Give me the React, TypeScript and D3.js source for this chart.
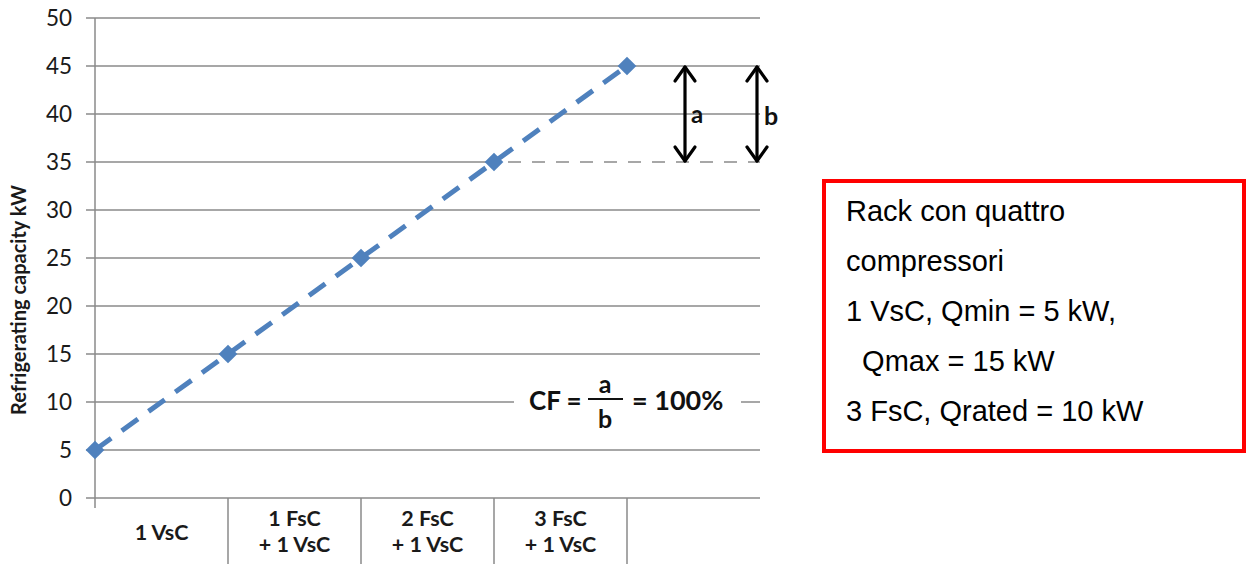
import React from "react";
import * as d3 from "d3";

// chart data
const categories = ["1 VsC", "1 FsC|+ 1 VsC", "2 FsC|+ 1 VsC", "3 FsC|+ 1 VsC", ""];
const capacity = [5, 15, 25, 35, 45];
const yTickValues = [0, 5, 10, 15, 20, 25, 30, 35, 40, 45, 50];
const boxLines = [
  "Rack con quattro",
  "compressori",
  "1 VsC, Qmin = 5 kW,",
  "  Qmax = 15 kW",
  "3 FsC, Qrated = 10 kW",
];
const aLow = 35;
const aHigh = 45;
const cfText = "= 100%";

const W = 1247;
const H = 564;
const left = 95;
const right = 760;
const top = 18;
const bottom = 498;

const chartFont = "Lato, 'Open Sans', sans-serif";
const boxFont = "'Liberation Sans', Arial, sans-serif";
const blue = "#4F81BD";
const grid = "#8a8a8a";
const ink = "#1a1a1a";

export default function App() {
  const x = d3.scaleLinear().domain([0, categories.length]).range([left, right]);
  const y = d3.scaleLinear().domain([0, 50]).range([bottom, top]);

  const line = d3
    .line<number>()
    .x((_, i) => x(i))
    .y((d) => y(d));

  const diamond = d3.symbol().type(d3.symbolSquare).size(175)();

  const arrowA = 685;
  const arrowB = 757;

  const arrow = (ax: number) => {
    const y1 = y(aHigh) + 1;
    const y2 = y(aLow) - 1;
    return (
      <g stroke="#000" strokeWidth={3.2} fill="none" strokeLinecap="round" strokeLinejoin="round">
        <line x1={ax} x2={ax} y1={y1} y2={y2} />
        <path d={`M${ax - 10},${y1 + 14}L${ax},${y1}L${ax + 10},${y1 + 14}`} />
        <path d={`M${ax - 10},${y2 - 14}L${ax},${y2}L${ax + 10},${y2 - 14}`} />
      </g>
    );
  };

  return (
    <svg
      width={W}
      height={H}
      style={{ position: "absolute", left: 0, top: 0, background: "#fff" }}
    >
      {/* gridlines */}
      {yTickValues.map((t) => {
        if (t === 0) return null;
        if (t === 35) {
          return (
            <g key={t}>
              <line x1={left - 9} x2={x(3)} y1={y(t)} y2={y(t)} stroke={grid} strokeWidth={1.5} />
              <line
                x1={x(3) + 14}
                x2={right}
                y1={y(t)}
                y2={y(t)}
                stroke={grid}
                strokeWidth={1.5}
                strokeDasharray="13 11"
              />
            </g>
          );
        }
        if (t === 10) {
          return (
            <g key={t}>
              <line x1={left - 9} x2={514} y1={y(t)} y2={y(t)} stroke={grid} strokeWidth={1.5} />
              <line x1={741} x2={right} y1={y(t)} y2={y(t)} stroke={grid} strokeWidth={1.5} />
            </g>
          );
        }
        return (
          <line key={t} x1={left - 9} x2={right} y1={y(t)} y2={y(t)} stroke={grid} strokeWidth={1.5} />
        );
      })}

      {/* x axis */}
      <line x1={left - 9} x2={right} y1={y(0)} y2={y(0)} stroke={grid} strokeWidth={1.5} />
      <line x1={left} x2={left} y1={top} y2={bottom + 10} stroke={grid} strokeWidth={1.5} />
      {categories.slice(1).map((_, i) => (
        <line key={i} x1={x(i + 1)} x2={x(i + 1)} y1={bottom} y2={H} stroke={grid} strokeWidth={1.5} />
      ))}

      {/* y tick labels */}
      {yTickValues.map((t) => (
        <text
          key={t}
          x={72}
          y={y(t)}
          dy="0.36em"
          textAnchor="end"
          fontFamily={chartFont}
          fontSize={22.5}
          fill={ink}
        >
          {t}
        </text>
      ))}

      {/* y title */}
      <text
        transform={`translate(26,300) rotate(-90)`}
        textAnchor="middle"
        fontFamily={chartFont}
        fontWeight="bold"
        fontSize={20}
        fill={ink}
      >
        Refrigerating capacity kW
      </text>

      {/* category labels */}
      {categories.map((c, i) => {
        const parts = c.split("|").filter((p) => p.length);
        const cx = (x(i) + x(i + 1)) / 2;
        return parts.map((p, j) => (
          <text
            key={`${i}-${j}`}
            x={cx}
            y={parts.length === 1 ? 540 : 526 + j * 26}
            textAnchor="middle"
            fontFamily={chartFont}
            fontWeight="bold"
            fontSize={21.5}
            fill={ink}
          >
            {p}
          </text>
        ));
      })}

      {/* series */}
      <path
        d={line(capacity) || ""}
        fill="none"
        stroke={blue}
        strokeWidth={5}
        strokeDasharray="20 13"
      />
      {capacity.map((v, i) => (
        <path
          key={i}
          d={diamond || ""}
          transform={`translate(${x(i)},${y(v)}) rotate(45)`}
          fill={blue}
        />
      ))}

      {/* a / b arrows */}
      {arrow(arrowA)}
      {arrow(arrowB)}
      <text x={691} y={123} fontFamily={chartFont} fontWeight="bold" fontSize={24} fill="#111">
        a
      </text>
      <text x={764} y={125} fontFamily={chartFont} fontWeight="bold" fontSize={25} fill="#111">
        b
      </text>

      {/* CF formula */}
      <g fontFamily={chartFont} fontWeight="bold" fill="#111">
        <text x={529} y={410} fontSize={26}>
          CF =
        </text>
        <line x1={588} x2={623} y1={399} y2={399} stroke="#111" strokeWidth={2.2} />
        <text x={605} y={393} fontSize={25} textAnchor="middle">
          a
        </text>
        <text x={605} y={428} fontSize={25} textAnchor="middle">
          b
        </text>
        <text x={632} y={410} fontSize={27}>
          {cfText}
        </text>
      </g>

      {/* info box */}
      <rect x={824} y={181} width={420} height={270} fill="#fff" stroke="#ff0000" strokeWidth={4} />
      {boxLines.map((l, i) => (
        <text
          key={i}
          x={846}
          y={221 + i * 50}
          fontFamily={boxFont}
          fontSize={29}
          fill="#000"
          style={{ whiteSpace: "pre" }}
        >
          {l}
        </text>
      ))}
    </svg>
  );
}
